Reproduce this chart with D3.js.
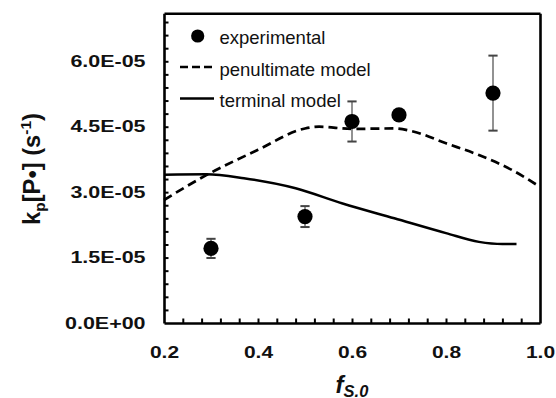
<!DOCTYPE html>
<html>
<head>
<meta charset="utf-8">
<script src="https://cdn.jsdelivr.net/npm/d3@7"></script>
<style>
  html, body { margin: 0; padding: 0; background: #fff; }
  svg { display: block; }
  text { font-family: "Liberation Sans", Arial, Helvetica, sans-serif; fill: #111; }
</style>
</head>
<body>
<svg id="chart" width="556" height="398"></svg>
<script>
// Monomer fraction f_S,0 of the experimental runs
const expX = [0.3, 0.5, 0.6, 0.7, 0.9];
// Measured kp[P•] and its uncertainty (s^-1)
const expY = [1.71e-5, 2.44e-5, 4.62e-5, 4.77e-5, 5.27e-5];
const expErr = [0.22e-5, 0.24e-5, 0.46e-5, null, 0.86e-5];

// Penultimate model prediction
const penX = [0.2, 0.29, 0.4, 0.5, 0.53, 0.6, 0.69, 0.73, 0.8, 0.87, 0.94, 1.0];
const penY = [2.82e-5, 3.39e-5, 3.97e-5, 4.46e-5, 4.50e-5, 4.45e-5, 4.46e-5, 4.39e-5, 4.12e-5, 3.85e-5, 3.51e-5, 3.12e-5];

// Terminal model prediction
const termX = [0.2, 0.29, 0.37, 0.48, 0.58, 0.69, 0.8, 0.87, 0.92, 0.95];
const termY = [3.40e-5, 3.41e-5, 3.32e-5, 3.09e-5, 2.74e-5, 2.40e-5, 2.06e-5, 1.86e-5, 1.81e-5, 1.81e-5];

// Axis ticks
const xTicks = [0.2, 0.4, 0.6, 0.8, 1.0];
const xTickLabels = ["0.2", "0.4", "0.6", "0.8", "1.0"];
const yTicks = [0, 1.5e-5, 3.0e-5, 4.5e-5, 6.0e-5];
const yTickLabels = ["0.0E+00", "1.5E-05", "3.0E-05", "4.5E-05", "6.0E-05"];
const xMinorTicks = [0.24, 0.28, 0.32, 0.36, 0.4, 0.44, 0.48, 0.52, 0.56, 0.6, 0.64, 0.68, 0.72, 0.76, 0.8, 0.84, 0.88, 0.92, 0.96];
const yMinorStep = 3e-6;

const legendItems = ["experimental", "penultimate model", "terminal model"];

const svg = d3.select("#chart");
const plot = { left: 164, right: 540, top: 13.3, bottom: 323 };

const x = d3.scaleLinear().domain([0.2, 1.0]).range([plot.left, plot.right]);
const y = d3.scaleLinear().domain([0, 7.1e-5]).range([plot.bottom, plot.top]);

// stretch tick text horizontally, as the bold labels run wide
function widen(sel, factor) {
  sel.each(function () {
    const len = this.getComputedTextLength();
    d3.select(this).attr("textLength", len * factor).attr("lengthAdjust", "spacingAndGlyphs");
  });
}

// four axis lines forming the frame, with inward minor ticks on the bottom and left
const yMinor = d3.range(1, 24).map(i => i * yMinorStep);
function styleFrameAxis(g) {
  g.select(".domain").attr("stroke", "#000").attr("stroke-width", 2.6);
  g.selectAll(".tick line").attr("stroke", "#000").attr("stroke-width", 2);
  g.selectAll(".tick text").remove();
}
svg.append("g").attr("class", "axis-bottom")
  .attr("transform", `translate(0,${plot.bottom})`)
  .call(d3.axisBottom(x).tickValues(xMinorTicks).tickSizeInner(-4.5).tickSizeOuter(0).tickFormat(() => ""))
  .call(styleFrameAxis);
svg.append("g").attr("class", "axis-left")
  .attr("transform", `translate(${plot.left},0)`)
  .call(d3.axisLeft(y).tickValues(yMinor).tickSizeInner(-4.5).tickSizeOuter(0).tickFormat(() => ""))
  .call(styleFrameAxis);
svg.append("g").attr("class", "axis-top")
  .attr("transform", `translate(0,${plot.top})`)
  .call(d3.axisTop(x).tickValues([]).tickSizeOuter(0))
  .call(styleFrameAxis);
svg.append("g").attr("class", "axis-right")
  .attr("transform", `translate(${plot.right},0)`)
  .call(d3.axisRight(y).tickValues([]).tickSizeOuter(0))
  .call(styleFrameAxis);

// tick labels
const gx = svg.append("g")
  .attr("transform", `translate(0,${plot.bottom})`)
  .call(d3.axisBottom(x).tickValues(xTicks).tickSize(0).tickPadding(23.4)
    .tickFormat((d, i) => xTickLabels[i]));
gx.select(".domain").remove();
gx.selectAll("text")
  .attr("font-family", null).attr("font-size", 16).attr("font-weight", "bold")
  .attr("fill", "#111").call(widen, 1.31);

const gy = svg.append("g")
  .attr("transform", `translate(${plot.left},0)`)
  .call(d3.axisLeft(y).tickValues(yTicks).tickSize(0).tickPadding(18.5)
    .tickFormat((d, i) => yTickLabels[i]));
gy.select(".domain").remove();
gy.selectAll("text")
  .attr("font-family", null).attr("font-size", 16).attr("font-weight", "bold")
  .attr("fill", "#111").call(widen, 1.34);

// model curves
const line = d3.line().x(d => x(d[0])).y(d => y(d[1])).curve(d3.curveMonotoneX);

svg.append("path")
  .datum(d3.zip(penX, penY))
  .attr("d", line)
  .attr("fill", "none").attr("stroke", "#000")
  .attr("stroke-width", 2.7).attr("stroke-dasharray", "9,5");

svg.append("path")
  .datum(d3.zip(termX, termY))
  .attr("d", line)
  .attr("fill", "none").attr("stroke", "#000").attr("stroke-width", 2.5);

// experimental points with error bars
const pts = expX.map((v, i) => ({ x: v, y: expY[i], e: expErr[i] }));
const bars = svg.append("g").selectAll("g").data(pts.filter(d => d.e)).join("g");
bars.append("line")
  .attr("x1", d => x(d.x)).attr("x2", d => x(d.x))
  .attr("y1", d => y(d.y + d.e)).attr("y2", d => y(d.y - d.e))
  .attr("stroke", "#777").attr("stroke-width", 1.6);
[1, -1].forEach(s => {
  bars.append("line")
    .attr("x1", d => x(d.x) - 4.6).attr("x2", d => x(d.x) + 4.6)
    .attr("y1", d => y(d.y + s * d.e)).attr("y2", d => y(d.y + s * d.e))
    .attr("stroke", "#444").attr("stroke-width", 2);
});

svg.append("g").selectAll("circle").data(pts).join("circle")
  .attr("cx", d => x(d.x)).attr("cy", d => y(d.y)).attr("r", 7.6)
  .attr("fill", "#000");

// legend
const lg = svg.append("g");
lg.append("circle").attr("cx", 197.7).attr("cy", 36).attr("r", 6.6).attr("fill", "#000");
lg.append("line").attr("x1", 180).attr("x2", 212).attr("y1", 67).attr("y2", 67)
  .attr("stroke", "#000").attr("stroke-width", 2.7).attr("stroke-dasharray", "8,4");
lg.append("line").attr("x1", 180).attr("x2", 214).attr("y1", 98.5).attr("y2", 98.5)
  .attr("stroke", "#000").attr("stroke-width", 2.5);
lg.selectAll("text").data(legendItems).join("text")
  .attr("x", 219.5).attr("y", (d, i) => 44 + i * 31.5)
  .attr("font-size", 18.5).attr("fill", "#222")
  .text(d => d);

// axis titles
const xt = svg.append("text")
  .attr("x", 352).attr("y", 392.5).attr("text-anchor", "middle")
  .attr("font-size", 24).attr("font-weight", "bold").attr("font-style", "italic");
xt.append("tspan").text("f");
xt.append("tspan").attr("font-size", 16.5).attr("dy", 4).text("S.0");

const yt = svg.append("text")
  .attr("text-anchor", "middle")
  .attr("font-size", 23).attr("font-weight", "bold");
yt.append("tspan").text("k");
yt.append("tspan").attr("font-size", 15).attr("dy", 5).text("p");
yt.append("tspan").attr("dy", -5).text("[P•] (s");
yt.append("tspan").attr("font-size", 15).attr("dy", -9).text("-1");
yt.append("tspan").attr("dy", 9).text(")");
const ytLen = yt.node().getComputedTextLength();
yt.attr("transform", `translate(40,169) rotate(-90) scale(${112 / ytLen},1)`);
</script>
</body>
</html>
